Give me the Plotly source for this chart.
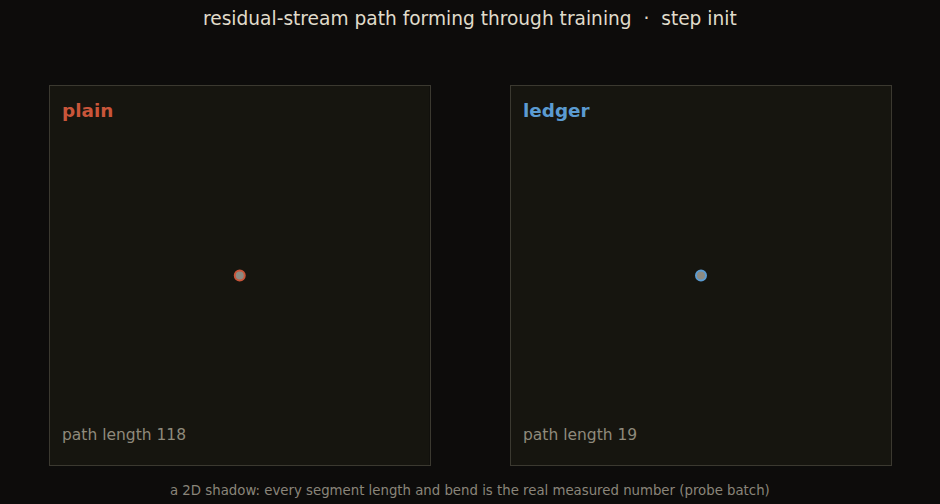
import plotly.graph_objects as go

# data
panels = ["plain", "ledger"]
plain_x = [0.0]
plain_y = [0.0]
ledger_x = [0.0]
ledger_y = [0.0]
path_lengths = [118, 19]
step_label = "init"

W, H = 940, 504
BG = "#0d0c0b"
PANEL = "#16150f"
BORDER = "#3b3930"
colors = {"plain": "#c9553a", "ledger": "#5b9bd1"}

fig = go.Figure()

xdoms = [(50 / W, 429.5 / W), (511 / W, 891 / W)]
ydom = (1 - 465 / H, 1 - 86 / H)

series = {"plain": (plain_x, plain_y), "ledger": (ledger_x, ledger_y)}

for i, name in enumerate(panels):
    xs, ys = series[name]
    ax = "" if i == 0 else str(i + 1)
    fig.add_trace(go.Scatter(
        x=xs, y=ys, mode="markers",
        marker=dict(size=10, color="#8c8a82", line=dict(color=colors[name], width=2)),
        xaxis="x" + ax, yaxis="y" + ax, showlegend=False, hoverinfo="skip"))
    axcommon = dict(showgrid=False, zeroline=False, showticklabels=False, ticks="",
                    showline=True, mirror=True, linecolor=BORDER, linewidth=1,
                    range=[-1, 1], fixedrange=True)
    fig.layout["xaxis" + ax] = dict(domain=list(xdoms[i]), anchor="y" + ax, **axcommon)
    fig.layout["yaxis" + ax] = dict(domain=list(ydom), anchor="x" + ax, **axcommon)
    x0 = xdoms[i][0] + 10 / W
    fig.add_annotation(x=x0, y=1 - 110 / H, xref="paper", yref="paper",
                       text="<b>%s</b>" % name, showarrow=False, xanchor="left", yanchor="middle",
                       font=dict(family="DejaVu Sans", size=18.4, color=colors[name]))
    fig.add_annotation(x=x0, y=1 - 435 / H, xref="paper", yref="paper",
                       text="path length %d" % path_lengths[i], showarrow=False,
                       xanchor="left", yanchor="middle",
                       font=dict(family="DejaVu Sans", size=15.5, color="#8f8a7c"))

fig.add_annotation(x=0.5, y=1 - 19 / H, xref="paper", yref="paper",
                   text="residual-stream path forming through training  ·  step " + step_label,
                   showarrow=False, xanchor="center", yanchor="middle",
                   font=dict(family="DejaVu Sans", size=18.6, color="#e0dccb"))
fig.add_annotation(x=0.5, y=1 - 490 / H, xref="paper", yref="paper",
                   text="a 2D shadow: every segment length and bend is the real measured number (probe batch)",
                   showarrow=False, xanchor="center", yanchor="middle",
                   font=dict(family="DejaVu Sans", size=13.3, color="#8a857a"))

fig.update_layout(width=W, height=H, margin=dict(l=0, r=0, t=0, b=0),
                  paper_bgcolor=BG, plot_bgcolor=PANEL, showlegend=False)

fig.write_html("out.html", config={"displayModeBar": False})
